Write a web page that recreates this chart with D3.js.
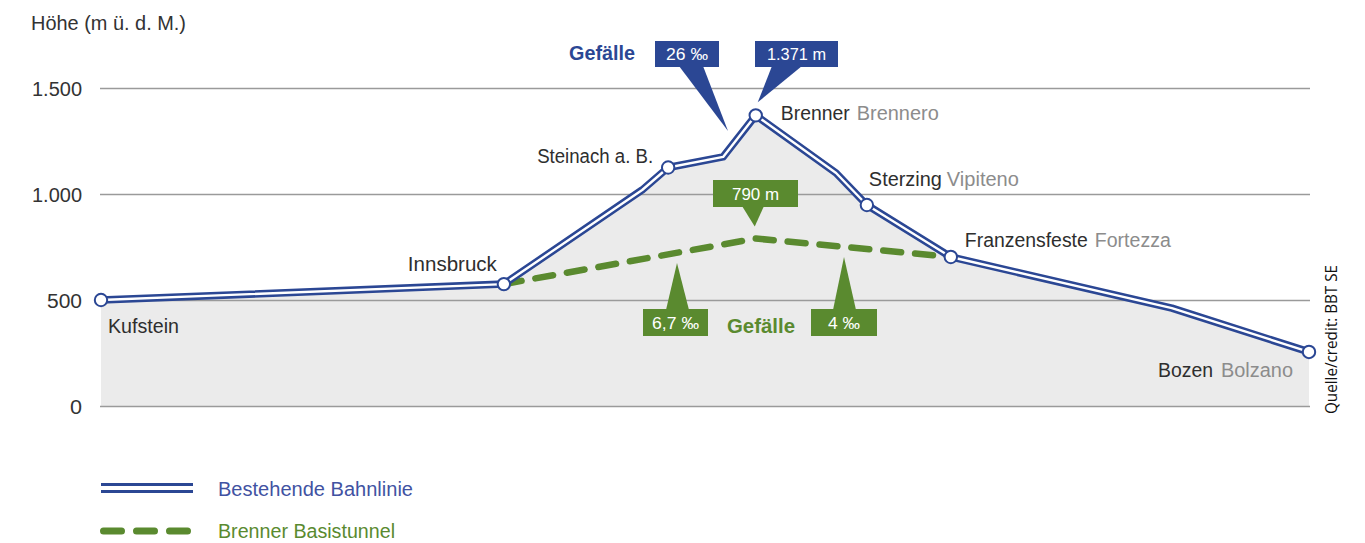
<!DOCTYPE html>
<html>
<head>
<meta charset="utf-8">
<script src="https://cdn.jsdelivr.net/npm/d3@7"></script>
<style>
  html, body { margin: 0; padding: 0; background: #fff; }
  svg { display: block; }
  text { font-family: "Liberation Sans", Arial, sans-serif; }
</style>
</head>
<body>
<svg id="chart" width="1365" height="543"></svg>
<script>
// Route profile: distance along the line (chart units) and elevation (m a.s.l.)
const routeDist = [0, 66.7, 89.6, 93.9, 103.0, 108.4, 121.7, 126.8, 140.7, 177.3, 200];
const routeElev = [500, 575, 1019, 1125, 1175, 1371, 1099, 948, 703, 462, 255];

// Base tunnel profile
const tunnelDist = [66.7, 108.4, 140.7];
const tunnelElev = [575, 790, 703];

// Stations (index into the route arrays) with German / Italian names
const stationIdx = [0, 1, 3, 5, 7, 8, 10];
const stationDe = ["Kufstein", "Innsbruck", "Steinach a. B.", "Brenner", "Sterzing", "Franzensfeste", "Bozen"];
const stationIt = ["", "", "", "Brennero", "Vipiteno", "Fortezza", "Bolzano"];

const yTicks = [0, 500, 1000, 1500];
const yTickLabels = ["0", "500", "1.000", "1.500"];

const BLUE = "#2b4794";
const BLUE_TEXT = "#4152a2";
const GREEN = "#5a8a2f";
const GREY_FILL = "#ebebeb";

const svg = d3.select("#chart");

const x = d3.scaleLinear().domain([0, 200]).range([101, 1309]);
const y = d3.scaleLinear().domain([0, 1500]).range([406, 88]);

const route = routeDist.map((d, i) => ({ d, e: routeElev[i] }));
const tunnel = tunnelDist.map((d, i) => ({ d, e: tunnelElev[i] }));

// Shaded terrain under the route
const area = d3.area().x(p => x(p.d)).y0(y(0)).y1(p => y(p.e));
svg.append("path").datum(route).attr("d", area).attr("fill", GREY_FILL);

// Horizontal grid and y labels
const labelWidth = { "0": 12, "500": 35, "1.000": 50, "1.500": 50 };
const yAxis = d3.axisLeft(y).tickValues(yTicks)
  .tickSize(-(1310 - 100))
  .tickFormat(d => yTickLabels[yTicks.indexOf(d)]);
const gAxis = svg.append("g").attr("transform", "translate(100,0)").call(yAxis);
gAxis.select(".domain").remove();
gAxis.selectAll(".tick line").attr("stroke", "#9a9a9a").attr("stroke-width", 1.5);
gAxis.selectAll(".tick text")
  .attr("x", -18).attr("dy", "0.36em")
  .attr("fill", "#333").attr("font-size", 20)
  .attr("textLength", d => labelWidth[yTickLabels[yTicks.indexOf(d)]])
  .attr("lengthAdjust", "spacingAndGlyphs")
  .style("font-family", "'Liberation Sans', Arial, sans-serif");

// Text helper with a fixed rendered width
function label(xp, yp, str, opts) {
  const t = svg.append("text").attr("x", xp).attr("y", yp)
    .attr("font-size", opts.size || 20).attr("fill", opts.fill || "#333")
    .text(str);
  if (opts.width) t.attr("textLength", opts.width).attr("lengthAdjust", "spacingAndGlyphs");
  if (opts.bold) t.attr("font-weight", "bold");
  if (opts.anchor) t.attr("text-anchor", opts.anchor);
  return t;
}

label(31, 30, "Höhe (m ü. d. M.)", { width: 155, fill: "#333" });

const line = d3.line().x(p => x(p.d)).y(p => y(p.e));

// Base tunnel (dashed)
svg.append("path").datum(tunnel).attr("d", line)
  .attr("fill", "none").attr("stroke", GREEN).attr("stroke-width", 6.5)
  .attr("stroke-dasharray", "18 14").attr("stroke-linecap", "round")
  .attr("stroke-linejoin", "round");

// Existing line (double line: blue with white core)
svg.append("path").datum(route).attr("d", line)
  .attr("fill", "none").attr("stroke", BLUE).attr("stroke-width", 7.5)
  .attr("stroke-linejoin", "round");
svg.append("path").datum(route).attr("d", line)
  .attr("fill", "none").attr("stroke", "#fff").attr("stroke-width", 2.4)
  .attr("stroke-linejoin", "round");

// Station markers
svg.selectAll("circle.station").data(stationIdx).enter().append("circle")
  .attr("class", "station")
  .attr("cx", i => x(routeDist[i])).attr("cy", i => y(routeElev[i]))
  .attr("r", 6.2).attr("fill", "#fff").attr("stroke", BLUE).attr("stroke-width", 2);

// Station labels: offset from the marker, widths of the German / Italian parts
const labelLayout = [
  { dx: 7, dy: 33, w1: 71 },
  { dx: -96, dy: -13, w1: 89 },
  { dx: -131, dy: -4.5, w1: 116 },
  { dx: 25, dy: 4.7, w1: 69, gap: 7, w2: 82 },
  { dx: 2, dy: -19, w1: 73, gap: 5, w2: 72 },
  { dx: 14, dy: -10, w1: 123, gap: 7, w2: 76 },
  { dx: -151, dy: 25, w1: 55, gap: 8, w2: 72 }
];
stationIdx.forEach((idx, k) => {
  const L = labelLayout[k];
  const lx = x(routeDist[idx]) + L.dx;
  const ly = y(routeElev[idx]) + L.dy;
  label(lx, ly, stationDe[k], { width: L.w1, fill: "#2e2e2e" });
  if (stationIt[k]) label(lx + L.w1 + L.gap, ly, stationIt[k], { width: L.w2, fill: "#8c8c8c" });
});

// Callout: box with label and a pointer triangle
function callout(color, box, pointer, str, w) {
  const g = svg.append("g");
  g.append("path").attr("fill", color)
    .attr("d", `M${pointer[0][0]},${pointer[0][1]}L${pointer[1][0]},${pointer[1][1]}L${pointer[2][0]},${pointer[2][1]}Z`);
  g.append("rect").attr("x", box[0]).attr("y", box[1]).attr("width", box[2]).attr("height", box[3]).attr("fill", color);
  g.append("text").attr("x", box[0] + box[2] / 2).attr("y", box[1] + box[3] / 2)
    .attr("dy", "0.36em").attr("text-anchor", "middle").attr("fill", "#fff")
    .attr("font-size", 17).attr("textLength", w).attr("lengthAdjust", "spacingAndGlyphs")
    .text(str);
}

const peak = route[5];
const tPeak = tunnel[1];

callout(BLUE, [655, 41, 64, 26], [[679, 66], [703, 66], [728, 131]], "26 ‰", 42);
callout(BLUE, [755, 41, 83, 26], [[772, 66], [802, 66], [x(peak.d) + 2, y(peak.e) - 13]], "1.371 m", 59);
callout(GREEN, [713, 180, 85, 27], [[742, 206], [764, 206], [x(tPeak.d) - 1, y(tPeak.e) - 12]], "790 m", 47);
callout(GREEN, [643, 309, 65, 27], [[666, 310], [689, 310], [677, 263]], "6,7 ‰", 47);
callout(GREEN, [811, 309, 66, 27], [[833, 310], [856, 310], [844, 257]], "4 ‰", 32);

label(569, 60, "Gefälle", { width: 66, bold: true, fill: BLUE });
label(727, 333, "Gefälle", { width: 68, bold: true, fill: GREEN });

// Legend
const lg = svg.append("g");
lg.append("line").attr("x1", 101).attr("x2", 193).attr("y1", 484.5).attr("y2", 484.5).attr("stroke", BLUE).attr("stroke-width", 2.8);
lg.append("line").attr("x1", 101).attr("x2", 193).attr("y1", 491.5).attr("y2", 491.5).attr("stroke", BLUE).attr("stroke-width", 2.8);
label(218, 496, "Bestehende Bahnlinie", { width: 195, fill: BLUE_TEXT });
lg.append("line").attr("x1", 103.5).attr("x2", 189).attr("y1", 531).attr("y2", 531)
  .attr("stroke", GREEN).attr("stroke-width", 7).attr("stroke-linecap", "round")
  .attr("stroke-dasharray", "18 15");
label(218, 538, "Brenner Basistunnel", { width: 177, fill: GREEN });

// Source credit
svg.append("text").attr("transform", "translate(1337,414) rotate(-90)")
  .attr("font-size", 16).attr("fill", "#111")
  .attr("textLength", 149).attr("lengthAdjust", "spacingAndGlyphs")
  .style("font-family", "'Open Sans', sans-serif")
  .text("Quelle/credit: BBT SE");
</script>
</body>
</html>
